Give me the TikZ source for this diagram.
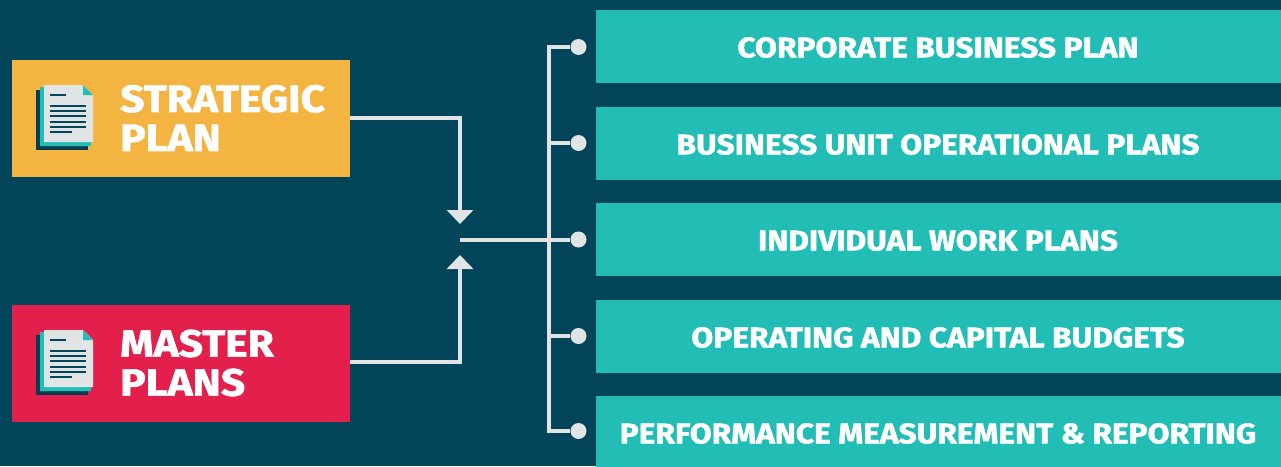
\documentclass[tikz,border=0pt]{standalone}
\usepackage{fontspec}
\setmainfont{Fira Sans}[BoldFeatures={FakeBold=1.6,FakeStretch=1.12}]
\usepackage{tikz}
\usetikzlibrary{arrows.meta}
\definecolor{bgblue}{HTML}{02445A}
\definecolor{sheetteal}{HTML}{22BDB5}
\definecolor{planyellow}{HTML}{F4B441}
\definecolor{planred}{HTML}{E31F4B}
\definecolor{wiregray}{HTML}{E0E4E5}
\tikzset{
  planbox/.style={fill=#1,minimum width=338pt,minimum height=117pt,inner sep=0pt},
  plantext/.style={anchor=west,text=white,inner sep=0pt,align=left,font=\fontsize{38}{39}\selectfont\bfseries},
  itembox/.style={fill=sheetteal,minimum width=685pt,minimum height=73pt,inner sep=0pt},
  itemtext/.style={text=white,inner sep=0pt,font=\fontsize{28.3}{30}\selectfont\bfseries},
  dot/.style={circle,fill=wiregray,minimum size=16pt,inner sep=0pt},
  wire/.style={draw=wiregray,line width=4pt},
  docicon/.pic={
    \fill[bgblue!90!black] (0,5) rectangle (52,65);
    \fill[sheetteal] (4,2) -- (10,2) -- (10,10) -- (55,10) -- (55,61) -- (4,61) -- cycle;
    \fill[wiregray] (8,0) -- (47,0) -- (57,10) -- (57,57) -- (8,57) -- cycle;
    \fill[sheetteal] (47,0) -- (57,10) -- (47,10) -- cycle;
    \draw[bgblue,line width=1.8pt] (14,10) -- (30,10) (14,21) -- (50,21) (14,26) -- (50,26) (14,31) -- (50,31)
      (14,37) -- (50,37) (14,42) -- (50,42) (14,47) -- (36,47);
  }
}
\begin{document}
\begin{tikzpicture}[x=1pt,y=-1pt]
\useasboundingbox (0,0) rectangle (1281,466);
\fill[bgblue] (0,0) rectangle (1281,466);

\node[planbox=planyellow] (strategic) at (181,118.5) {};
\node[planbox=planred] (master) at (181,363.5) {};
\node[plantext] (strategictext) at (120,118) {STRATEGIC\\PLAN};
\node[plantext] (mastertext) at (120,363) {MASTER\\PLANS};
\pic at (36,85) {docicon};
\pic at (36,330) {docicon};

\node[itembox] (item1) at (938.5,46.5) {};
\node[itembox] (item2) at (938.5,143.5) {};
\node[itembox] (item3) at (938.5,239.5) {};
\node[itembox] (item4) at (938.5,336.5) {};
\node[itembox] (item5) at (938.5,432.5) {};

\node[itemtext] (itemtext1) at (938,47.5) {CORPORATE BUSINESS PLAN};
\node[itemtext] (itemtext2) at (938,144.5) {BUSINESS UNIT OPERATIONAL PLANS};
\node[itemtext] (itemtext3) at (938,240.5) {INDIVIDUAL WORK PLANS};
\node[itemtext] (itemtext4) at (938,337.5) {OPERATING AND CAPITAL BUDGETS};
\node[itemtext] (itemtext5) at (938,433.5) {PERFORMANCE MEASUREMENT \& REPORTING};

\node[dot] (dot1) at (578.5,47) {};
\node[dot] (dot2) at (578.5,143) {};
\node[dot] (dot3) at (578.5,239.5) {};
\node[dot] (dot4) at (578.5,336) {};
\node[dot] (dot5) at (578.5,431) {};

\coordinate (meet) at (460,239.5);
\coordinate (spine) at (549,239.5);

\draw[wire,-{Triangle[width=26pt,length=14pt]},shorten >=15.5pt] ([yshift=1pt]strategic.east) -| (meet);
\draw[wire,-{Triangle[width=26pt,length=14pt]},shorten >=15.5pt] ([yshift=2pt]master.east) -| (meet);
\draw[wire] (meet) -- (dot3);
\draw[wire] (dot1) -- (dot1 -| spine) -- (dot5 -| spine) -- (dot5);
\draw[wire] (dot2) -- (dot2 -| spine);
\draw[wire] (dot4) -- (dot4 -| spine);
\end{tikzpicture}
\end{document}
